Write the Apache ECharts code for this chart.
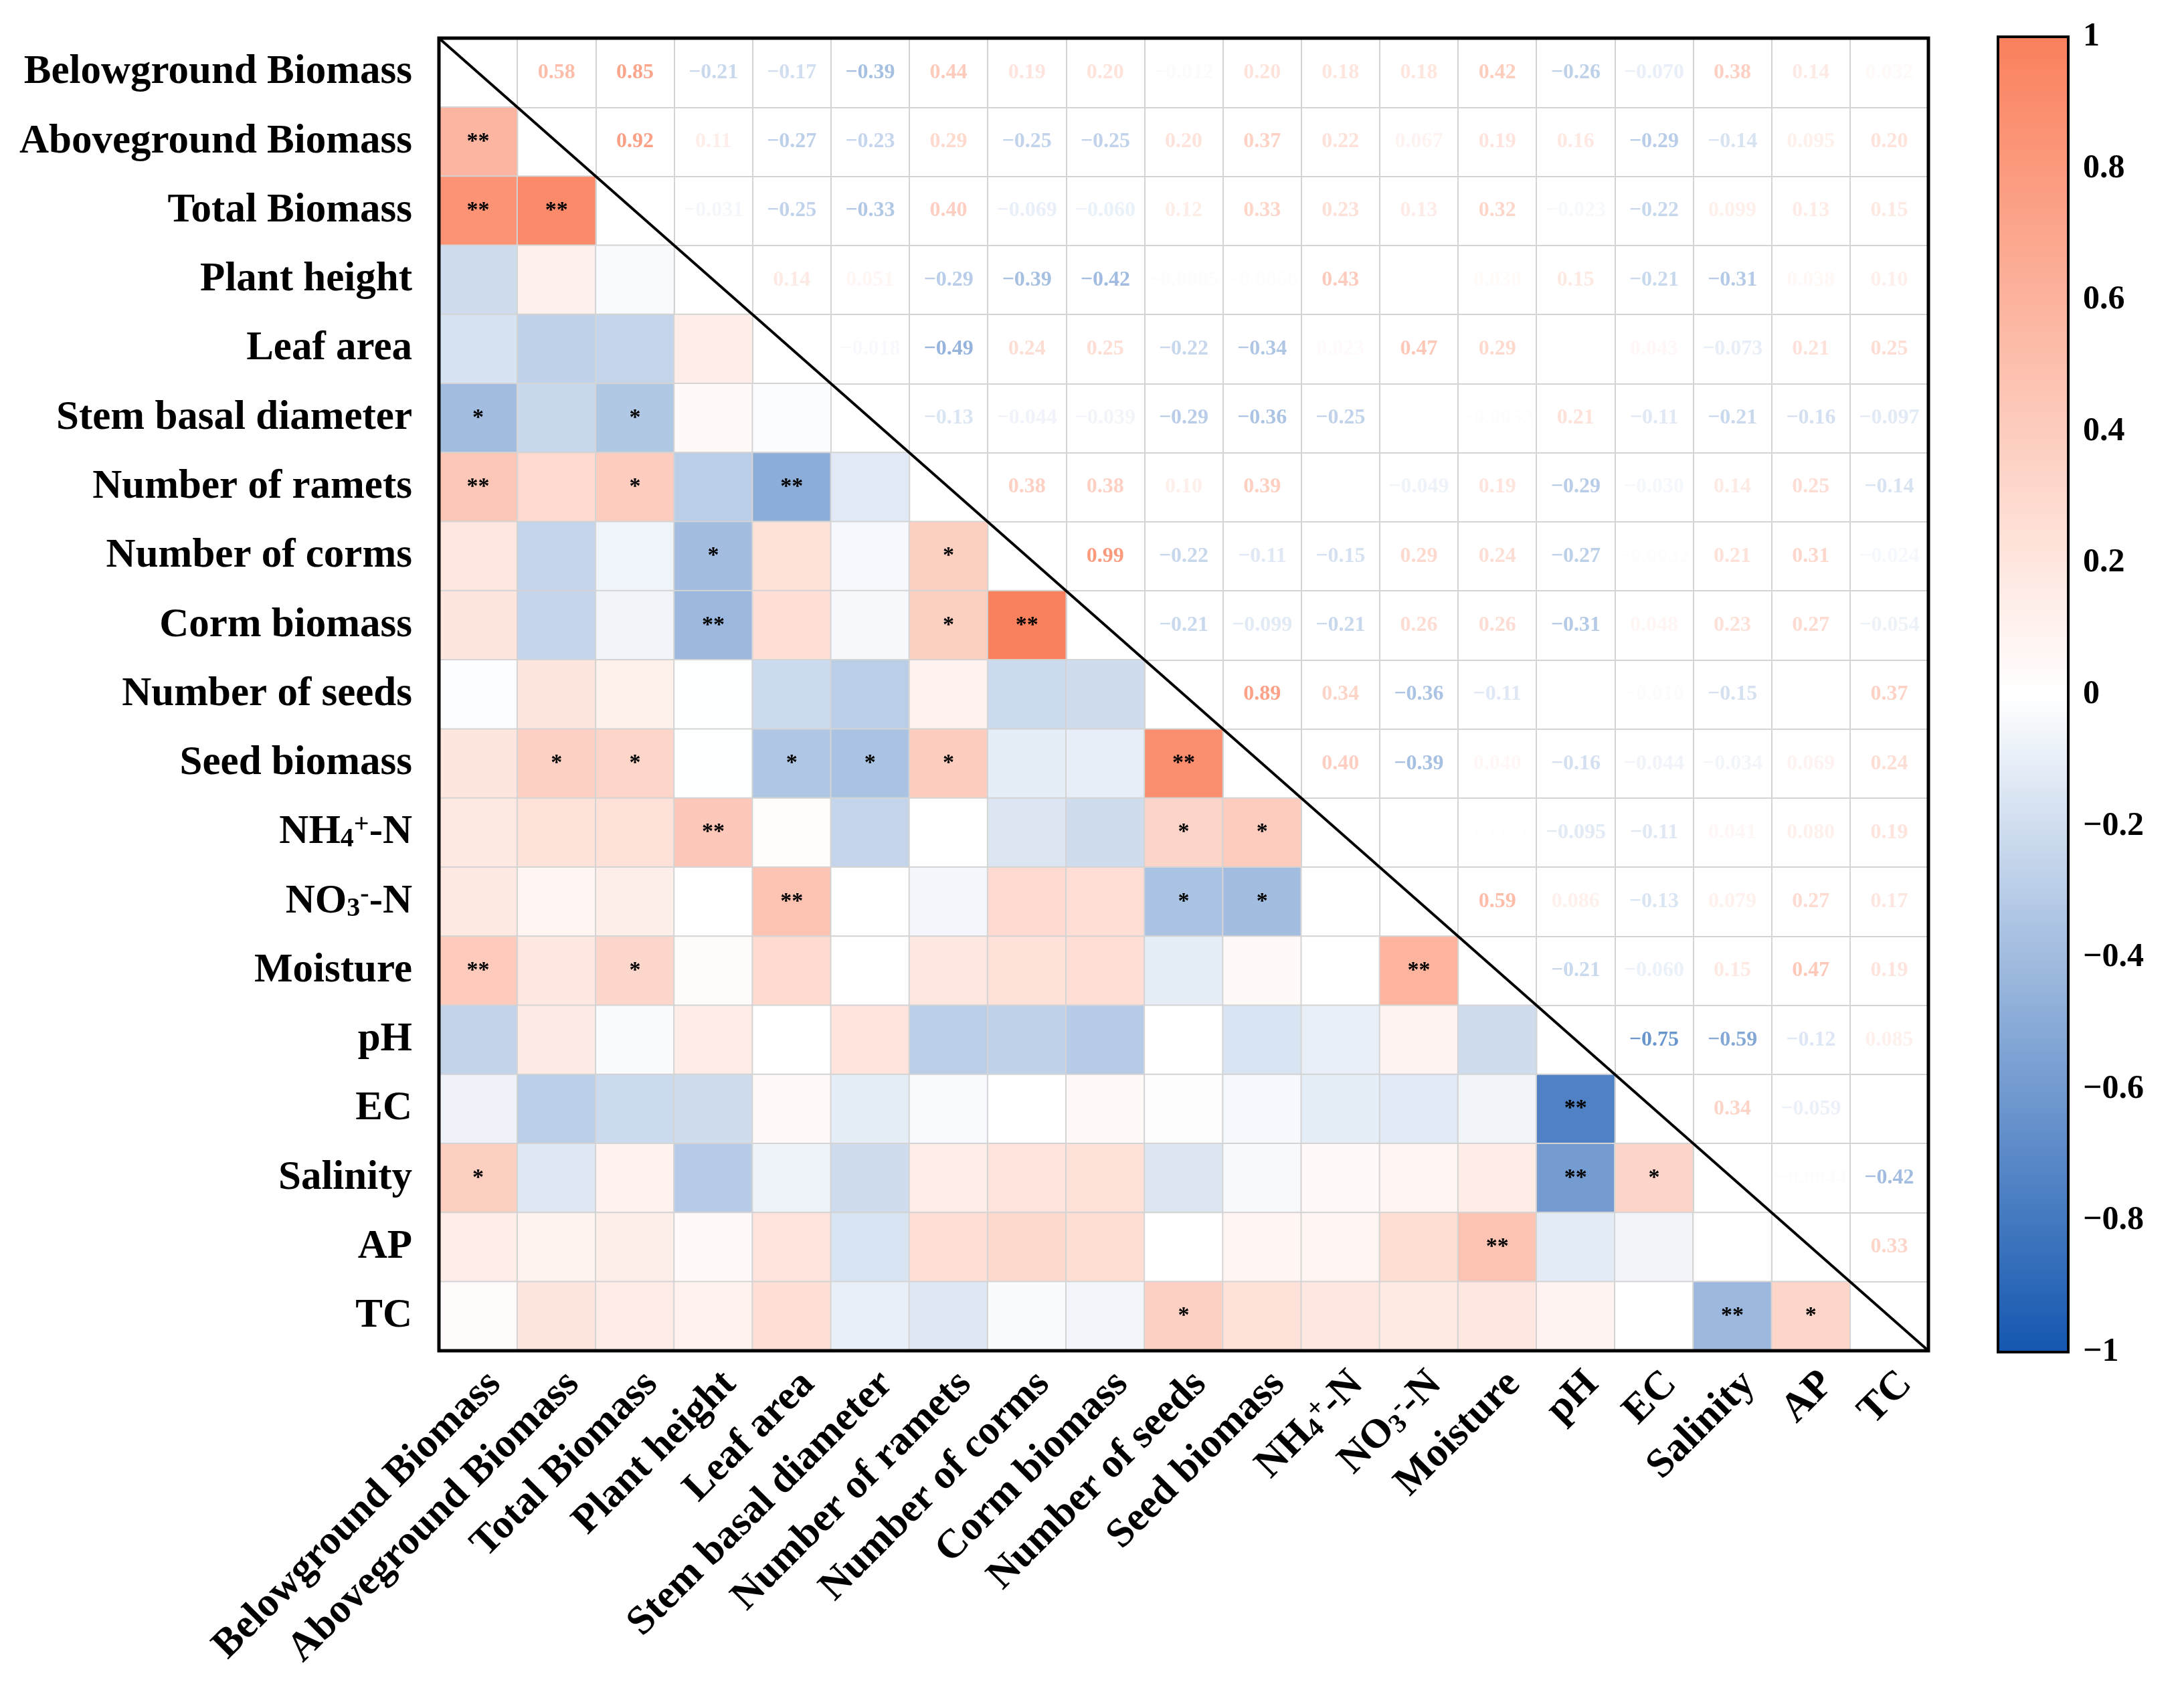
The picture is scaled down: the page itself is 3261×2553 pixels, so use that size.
<!DOCTYPE html>
<html>
<head>
<meta charset="utf-8">
<script src="https://cdn.jsdelivr.net/npm/echarts@6/dist/echarts.min.js"></script>
<style>
html, body { margin: 0; padding: 0; background: #fff; }
#main { width: 3261px; height: 2553px; }
</style>
</head>
<body>
<div id="main"></div>
<script>
var varNames = ['Belowground Biomass', 'Aboveground Biomass', 'Total Biomass', 'Plant height', 'Leaf area',
	'Stem basal diameter', 'Number of ramets', 'Number of corms', 'Corm biomass', 'Number of seeds',
	'Seed biomass', 'NH4+-N', 'NO3--N', 'Moisture', 'pH', 'EC', 'Salinity', 'AP', 'TC'];

// upper triangle, row i holds r with columns i+1 .. 18
var r_below = [0.58, 0.85, -0.21, -0.17, -0.39, 0.44, 0.19, 0.20, -0.012, 0.20, 0.18, 0.18, 0.42, -0.26, -0.070, 0.38, 0.14, 0.032];
var r_above = [0.92, 0.11, -0.27, -0.23, 0.29, -0.25, -0.25, 0.20, 0.37, 0.22, 0.067, 0.19, 0.16, -0.29, -0.14, 0.095, 0.20];
var r_total = [-0.031, -0.25, -0.33, 0.40, -0.069, -0.060, 0.12, 0.33, 0.23, 0.13, 0.32, -0.023, -0.22, 0.099, 0.13, 0.15];
var r_height = [0.14, 0.051, -0.29, -0.39, -0.42, -0.0085, -0.0068, 0.43, 0.002, 0.030, 0.15, -0.21, -0.31, 0.038, 0.10];
var r_leaf = [-0.018, -0.49, 0.24, 0.25, -0.22, -0.34, 0.023, 0.47, 0.29, 0.002, 0.043, -0.073, 0.21, 0.25];
var r_stem = [-0.13, -0.044, -0.039, -0.29, -0.36, -0.25, 0.002, -0.0052, 0.21, -0.11, -0.21, -0.16, -0.097];
var r_ramets = [0.38, 0.38, 0.10, 0.39, 0.002, -0.049, 0.19, -0.29, -0.030, 0.14, 0.25, -0.14];
var r_corms = [0.99, -0.22, -0.11, -0.15, 0.29, 0.24, -0.27, -0.0032, 0.21, 0.31, -0.024];
var r_cormbio = [-0.21, -0.099, -0.21, 0.26, 0.26, -0.31, 0.048, 0.23, 0.27, -0.054];
var r_seeds = [0.89, 0.34, -0.36, -0.11, 0.002, -0.010, -0.15, 0.002, 0.37];
var r_seedbio = [0.40, -0.39, 0.040, -0.16, -0.044, -0.034, 0.069, 0.24];
var r_nh4 = [0.002, 0.002, -0.095, -0.11, 0.041, 0.080, 0.19];
var r_no3 = [0.59, 0.086, -0.13, 0.079, 0.27, 0.17];
var r_moist = [-0.21, -0.060, 0.15, 0.47, 0.19];
var r_ph = [-0.75, -0.59, -0.12, 0.085];
var r_ec = [0.34, -0.059, 0.002];
var r_sal = [-0.0044, -0.42];
var r_ap = [0.33];

// significance marks in lower triangle: [row, col, mark]
var signif = [
	[1, 0, '**'], [2, 0, '**'], [2, 1, '**'],
	[5, 0, '*'], [5, 2, '*'],
	[6, 0, '**'], [6, 2, '*'], [6, 4, '**'],
	[7, 3, '*'], [7, 6, '*'],
	[8, 3, '**'], [8, 6, '*'], [8, 7, '**'],
	[10, 1, '*'], [10, 2, '*'], [10, 4, '*'], [10, 5, '*'], [10, 6, '*'], [10, 9, '**'],
	[11, 3, '**'], [11, 9, '*'], [11, 10, '*'],
	[12, 4, '**'], [12, 9, '*'], [12, 10, '*'],
	[13, 0, '**'], [13, 2, '*'], [13, 12, '**'],
	[15, 14, '**'],
	[16, 0, '*'], [16, 14, '**'], [16, 15, '*'],
	[17, 13, '**'],
	[18, 9, '*'], [18, 16, '**'], [18, 17, '*']
];

var colorbarTicks = [-1, -0.8, -0.6, -0.4, -0.2, 0, 0.2, 0.4, 0.6, 0.8, 1];

var rows = [r_below, r_above, r_total, r_height, r_leaf, r_stem, r_ramets, r_corms, r_cormbio,
	r_seeds, r_seedbio, r_nh4, r_no3, r_moist, r_ph, r_ec, r_sal, r_ap];

var NEG = [20, 87, 176], POS = [250, 128, 92];
var FONT = 'Liberation Serif';

function textColor(r) {
	var t = Math.pow(Math.min(1, Math.abs(r)), 0.8);
	var c = r < 0 ? NEG : POS;
	var out = [];
	for (var k = 0; k < 3; k++) out.push(Math.round(255 - t * (255 - c[k])));
	return 'rgb(' + out.join(',') + ')';
}
function fmt(r) {
	return r.toPrecision(2).replace('-', '\u2212');
}

var starMap = {};
signif.forEach(function (s) { starMap[s[0] + ',' + s[1]] = s[2]; });

var lowerData = [], upperData = [];
rows.forEach(function (vals, i) {
	vals.forEach(function (r, k) {
		var j = i + 1 + k;
		// upper: row i, col j ; lower: row j, col i
		upperData.push({ value: [j, i, r], label: { color: textColor(r) } });
		lowerData.push([i, j, r]);
	});
});

function axisFmt(v) {
	if (v === 'NH4+-N') return 'NH{sub|4}{sup|+}-N';
	if (v === 'NO3--N') return 'NO{sub|3}{sup|-}-N';
	return v;
}
var richSub = {
	sub: { fontSize: 40, fontFamily: FONT, fontWeight: 'bold', color: '#000', verticalAlign: 'bottom' },
	sup: { fontSize: 40, fontFamily: FONT, fontWeight: 'bold', color: '#000', verticalAlign: 'top' }
};

var G = { left: 656, top: 57, width: 2226, height: 1962 };

var chart = echarts.init(document.getElementById('main'));
var option = {
	backgroundColor: '#fff',
	animation: false,
	grid: [
		{ left: G.left, top: G.top, width: G.width, height: G.height, show: true, z: 10,
			backgroundColor: 'rgba(0,0,0,0)', borderColor: '#000', borderWidth: 5 },
		{ left: 2986, top: 55, width: 105, height: 1966, show: true, z: 10,
			backgroundColor: 'rgba(0,0,0,0)', borderColor: '#000', borderWidth: 4 }
	],
	xAxis: [
		{
			type: 'category', data: varNames, gridIndex: 0, position: 'bottom',
			axisLine: { show: false }, axisTick: { show: false },
			splitLine: { show: true, interval: 0, lineStyle: { color: '#d4d4d4', width: 2 } },
			axisLabel: { interval: 0, rotate: 45, margin: 16, padding: [70, 0, 0, 0], fontSize: 61, fontWeight: 'bold',
				fontFamily: FONT, color: '#000', formatter: axisFmt, rich: richSub }
		},
		{ type: 'value', gridIndex: 1, show: false, min: 0, max: 1 }
	],
	yAxis: [
		{
			type: 'category', data: varNames, gridIndex: 0, inverse: true,
			axisLine: { show: false }, axisTick: { show: false },
			splitLine: { show: true, interval: 0, lineStyle: { color: '#d4d4d4', width: 2 } },
			axisLabel: { interval: 0, margin: 40, fontSize: 61, fontWeight: 'bold',
				fontFamily: FONT, color: '#000', formatter: axisFmt, rich: richSub }
		},
		{
			type: 'value', gridIndex: 1, position: 'right', min: -1, max: 1, interval: 0.2,
			axisLine: { show: false }, splitLine: { show: false },
			axisTick: { show: true, inside: false, length: 36, lineStyle: { color: '#000', width: 4 } },
			axisLabel: { margin: 22, fontSize: 50, fontWeight: 'bold', fontFamily: FONT, color: '#000',
				formatter: function (v) {
					var t = +v.toFixed(1);
					return colorbarTicks.indexOf(t) < 0 ? '' : String(t).replace('-', '\u2212');
				} }
		}
	],
	visualMap: {
		type: 'continuous', min: -1, max: 1, seriesIndex: 0, dimension: 2,
		calculable: false, realtime: false, text: null, padding: 0, z: 2,
		left: 2986, top: 55, itemWidth: 105, itemHeight: 1966,
		inRange: { color: ['rgb(20,87,176)', '#ffffff', 'rgb(250,128,92)'] }
	},
	series: [
		{
			type: 'heatmap', xAxisIndex: 0, yAxisIndex: 0, data: lowerData,
			itemStyle: { borderColor: '#d4d4d4', borderWidth: 2 },
			label: { show: true, fontSize: 34, fontFamily: FONT, fontWeight: 'bold', color: '#000',
				formatter: function (p) { return starMap[p.value[1] + ',' + p.value[0]] || ''; } },
			emphasis: { disabled: true }
		},
		{
			type: 'scatter', xAxisIndex: 0, yAxisIndex: 0, data: upperData,
			symbol: 'rect', symbolSize: 1, itemStyle: { color: 'rgba(0,0,0,0)' },
			label: { show: true, position: 'inside', fontSize: 32, fontFamily: FONT, fontWeight: 'bold',
				formatter: function (p) { return fmt(p.value[2]); } },
			emphasis: { disabled: true }
		}
	],
	graphic: [
		{ type: 'line', z: 100, silent: true,
			shape: { x1: G.left, y1: G.top, x2: G.left + G.width, y2: G.top + G.height },
			style: { stroke: '#000', lineWidth: 4 } }
	]
};
chart.setOption(option);
</script>
</body>
</html>
